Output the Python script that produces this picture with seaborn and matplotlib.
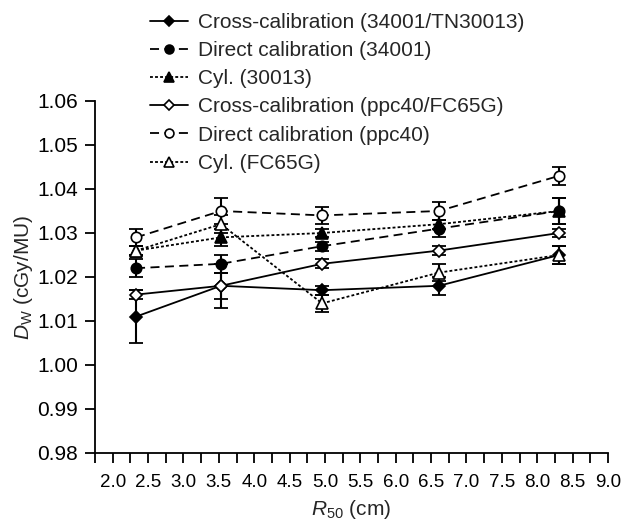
import matplotlib
matplotlib.use("Agg")
import numpy as np
import pandas as pd
import matplotlib.pyplot as plt
import seaborn as sns

# R50 positions (cm)
r50 = [2.33, 3.53, 4.96, 6.61, 8.31]

labels = [
    "Cross-calibration (34001/TN30013)",
    "Direct calibration (34001)",
    "Cyl. (30013)",
    "Cross-calibration (ppc40/FC65G)",
    "Direct calibration (ppc40)",
    "Cyl. (FC65G)",
]

# Dw values (cGy/MU)
cross_34001 = [1.011, 1.018, 1.017, 1.018, 1.025]
direct_34001 = [1.022, 1.023, 1.027, 1.031, 1.035]
cyl_30013 = [1.026, 1.029, 1.030, 1.032, 1.035]
cross_ppc40 = [1.016, 1.018, 1.023, 1.026, 1.030]
direct_ppc40 = [1.029, 1.035, 1.034, 1.035, 1.043]
cyl_fc65g = [1.026, 1.032, 1.014, 1.021, 1.025]

# error bars
err_cross_34001 = [0.006, 0.005, 0.001, 0.002, 0.002]
err_direct_34001 = [0.002, 0.002, 0.001, 0.002, 0.003]
err_cyl_30013 = [0.001, 0.002, 0.001, 0.001, 0.003]
err_cross_ppc40 = [0.001, 0.003, 0.001, 0.001, 0.001]
err_direct_ppc40 = [0.002, 0.003, 0.002, 0.002, 0.002]
err_cyl_fc65g = [0.001, 0.002, 0.002, 0.002, 0.002]

values = [cross_34001, direct_34001, cyl_30013, cross_ppc40, direct_ppc40, cyl_fc65g]
errors = [err_cross_34001, err_direct_34001, err_cyl_30013,
          err_cross_ppc40, err_direct_ppc40, err_cyl_fc65g]

sns.set_style("ticks")
plt.rcParams["font.family"] = ["Liberation Sans", "DejaVu Sans"]
plt.rcParams["mathtext.fontset"] = "custom"
plt.rcParams["mathtext.rm"] = "Liberation Sans"
plt.rcParams["mathtext.it"] = "Liberation Sans:italic"

dashed = (0, (5, 3))
dotted = (0, (1.6, 1.2))
styles = [
    dict(marker="D", ls="-", mfc="black", ms=6.5),
    dict(marker="o", ls=dashed, mfc="black", ms=7.5),
    dict(marker="^", ls=dotted, mfc="black", ms=8),
    dict(marker="D", ls="-", mfc="white", ms=6.5),
    dict(marker="o", ls=dashed, mfc="white", ms=7.5),
    dict(marker="^", ls=dotted, mfc="white", ms=8),
]

fig = plt.figure(figsize=(6.26, 5.24), dpi=100)
ax = fig.add_axes([95 / 626, 1 - 453 / 524, 513 / 626, 352 / 524])

for vals, errs, lab, st in zip(values, errors, labels, styles):
    ax.errorbar(r50, vals, yerr=errs, fmt="none", ecolor="black",
                elinewidth=1.5, capsize=4.7, capthick=1.3, zorder=2)
    df = pd.DataFrame({"R50": r50, "Dw": vals})
    sns.lineplot(data=df, x="R50", y="Dw", ax=ax, color="black", lw=1.3,
                 linestyle=st["ls"], marker=st["marker"], markersize=st["ms"],
                 markerfacecolor=st["mfc"], markeredgecolor="black",
                 markeredgewidth=1.2, sort=False, errorbar=None,
                 label=lab, zorder=3)

ax.set_xlim(1.75, 9.0)
ax.set_ylim(0.98, 1.06)
xt = np.arange(1.75, 9.01, 0.25)
ax.set_xticks(xt)
ax.set_xticklabels(["%.1f" % t if abs(t * 2 - round(t * 2)) < 1e-6 else "" for t in xt],
                   fontsize=13.5)
ax.set_yticks(np.arange(0.98, 1.0601, 0.01))
ax.set_yticklabels(["%.2f" % t for t in np.arange(0.98, 1.0601, 0.01)], fontsize=15)
ax.tick_params(axis="x", direction="out", length=7, width=1.3, pad=8, colors="black")
ax.tick_params(axis="y", direction="out", length=7, width=1.3, pad=5, colors="black")

for s in ["top", "right"]:
    ax.spines[s].set_visible(False)
for s in ["left", "bottom"]:
    ax.spines[s].set_linewidth(1.3)
    ax.spines[s].set_color("black")

ax.set_xlabel("$R_{50}$ (cm)", fontsize=15, labelpad=5)
ax.set_ylabel("$D_\\mathrm{W}$ (cGy/MU)", fontsize=15, labelpad=2)

handles, labs = ax.get_legend_handles_labels()
if ax.get_legend():
    ax.get_legend().remove()
fig.legend(handles, labs, loc="upper left", bbox_to_anchor=(150 / 626, 1 - 13 / 524),
           frameon=False, fontsize=15, borderpad=0, borderaxespad=0,
           handlelength=1.8, handletextpad=0.5, labelspacing=0.44, markerscale=0.85)

plt.savefig("out.png", dpi=100)
plt.close()
